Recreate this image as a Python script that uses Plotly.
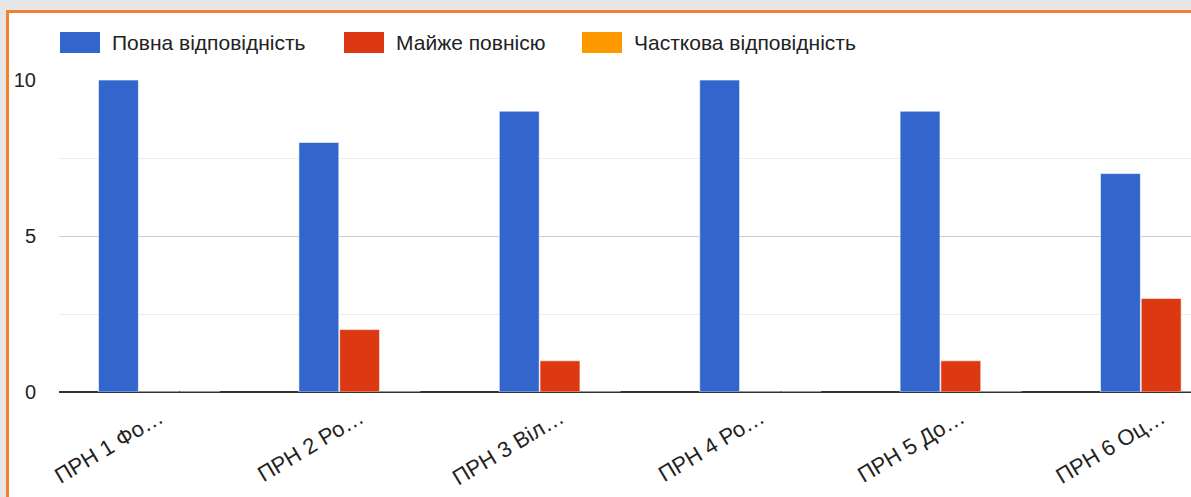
import plotly.graph_objects as go

categories = ["ПРН 1 Фо…", "ПРН 2 Ро…", "ПРН 3 Віл…", "ПРН 4 Ро…", "ПРН 5 До…", "ПРН 6 Оц…"]
series_names = ["Повна відповідність", "Майже повнісю", "Часткова відповідність"]
full_match = [10, 8, 9, 10, 9, 7]
almost_full = [0, 2, 1, 0, 1, 3]
partial = [0, 0, 0, 0, 0, 0]
colors = ["#3366cc", "#dc3912", "#ff9900"]
y_ticks = [0, 5, 10]
y_minor = [2.5, 7.5]

W, H = 1191, 497
ML, MR, MT, MB = 59, 0, 80, 105
FONT = "Arial, 'Liberation Sans', sans-serif"

fig = go.Figure()
for name, vals, col in zip(series_names, [full_match, almost_full, partial], colors):
    fig.add_trace(go.Bar(
        x=categories, y=vals, name=name,
        marker=dict(color=col, line=dict(color="rgba(255,255,255,0.6)", width=1)),
        showlegend=False,
    ))

pw = W - ML - MR
ph = H - MT - MB

def px_x(p):
    return (p - ML) / pw

def px_y(p):
    return (H - MB - p) / ph

shapes = [
    dict(type="rect", xref="paper", yref="paper",
         x0=px_x(7.5), x1=px_x(W + 20), y0=px_y(H + 20), y1=px_y(11.5),
         fillcolor="white", line=dict(color="#f0812f", width=3), layer="below"),
]
annotations = []
legend_x = [60, 344, 582]
for i, (name, col) in enumerate(zip(series_names, colors)):
    x0 = legend_x[i]
    shapes.append(dict(type="rect", xref="paper", yref="paper",
                       x0=px_x(x0), x1=px_x(x0 + 40), y0=px_y(53), y1=px_y(32),
                       fillcolor=col, line=dict(width=0), layer="above"))
    annotations.append(dict(xref="paper", yref="paper", x=px_x(x0 + 50), y=px_y(43),
                            text=name, showarrow=False, xanchor="left", yanchor="middle",
                            font=dict(family=FONT, size=21, color="#222222")))

fig.update_layout(
    width=W, height=H,
    margin=dict(l=ML, r=MR, t=MT, b=MB, pad=0),
    paper_bgcolor="#e6e6e6",
    plot_bgcolor="rgba(0,0,0,0)",
    barmode="group",
    bargap=0.39,
    bargroupgap=0.02,
    shapes=shapes,
    annotations=annotations,
    font=dict(family=FONT, size=20, color="#222222"),
    xaxis=dict(
        range=[-0.5, -0.5 + pw / 200.4],
        tickangle=-31,
        showgrid=False,
        zeroline=False,
        showline=False,
        ticks="",
        ticklabelstandoff=8,
        tickfont=dict(family=FONT, size=22, color="#222222"),
    ),
    yaxis=dict(
        range=[0, 10],
        tickvals=y_ticks,
        ticktext=[str(v) for v in y_ticks],
        showgrid=True,
        gridcolor="#cccccc",
        gridwidth=1,
        zeroline=True,
        zerolinecolor="#333333",
        zerolinewidth=2,
        showline=False,
        ticks="",
        ticklabelstandoff=22,
        tickfont=dict(family=FONT, size=20, color="#222222"),
        minor=dict(tickvals=y_minor, showgrid=True, gridcolor="#ebebeb", gridwidth=1),
    ),
)

fig.write_html(
    "out.html",
    config={"displayModeBar": False},
    post_script="document.body.style.margin='0';document.body.style.overflow='hidden';",
)
